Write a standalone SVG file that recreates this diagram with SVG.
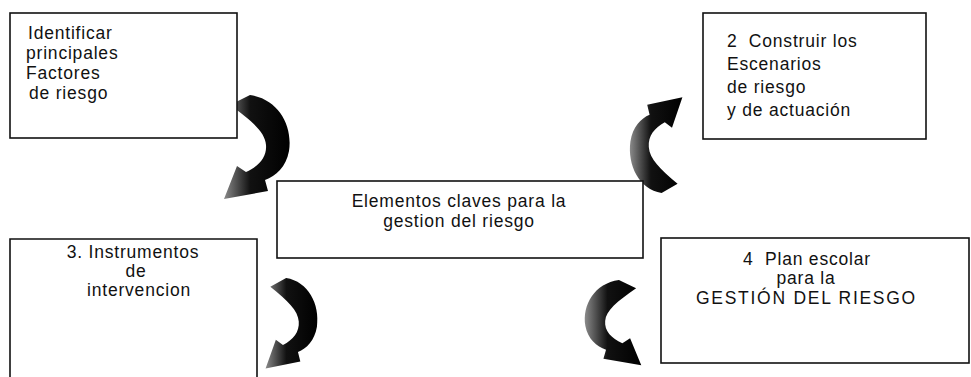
<svg xmlns="http://www.w3.org/2000/svg" width="971" height="377" viewBox="0 0 971 377">
<style>
.box{fill:#fff;stroke:#111;stroke-width:1.6}
.t{font-family:"Liberation Sans",Arial,sans-serif;font-size:17.5px;letter-spacing:0.8px;fill:#111}
.m{text-anchor:middle}
</style>
<defs>
<linearGradient id="gL" x1="0" y1="0" x2="1" y2="0">
<stop offset="0" stop-color="#8a8a8a"/><stop offset="0.4" stop-color="#111"/><stop offset="1" stop-color="#000"/>
</linearGradient>
<linearGradient id="gR" x1="0" y1="0" x2="1" y2="0">
<stop offset="0" stop-color="#000"/><stop offset="0.6" stop-color="#111"/><stop offset="1" stop-color="#8a8a8a"/>
</linearGradient>
<path id="arr" d="M 8,10 L 28,0 C 56,4 71,30 67,56 C 64,72 54,81 43,85 L 46,96 L 2,104 L 15,71 L 24,77 C 37,71 45,62 44,50 C 43,37 30,26 8,10 Z"/>
</defs>
<rect width="971" height="377" fill="#fff"/>

<g id="connectors">
<use href="#arr" fill="url(#gL)" transform="translate(222,95)"/>
<use href="#arr" fill="url(#gR)" transform="translate(684,193) scale(-0.8,-0.92)"/>
<use href="#arr" fill="url(#gL)" transform="translate(264,278) scale(0.79,0.87)"/>
<use href="#arr" fill="url(#gR)" transform="translate(643,280) scale(-0.86,0.82)"/>
</g>

<g id="node1">
<rect class="box" x="10" y="13" width="227" height="125"/>
<text class="t" x="28" y="39">Identificar</text>
<text class="t" x="26" y="59">principales</text>
<text class="t" x="26" y="79">Factores</text>
<text class="t" x="29" y="99">de riesgo</text>
</g>

<g id="node2">
<rect class="box" x="703" y="13" width="223" height="126"/>
<text class="t" x="727" y="47" xml:space="preserve">2  Construir los</text>
<text class="t" x="727" y="70">Escenarios</text>
<text class="t" x="727" y="93">de riesgo</text>
<text class="t" x="727" y="116">y de actuación</text>
</g>

<g id="center">
<rect class="box" x="277" y="181" width="366" height="77"/>
<text class="t m" x="459" y="207">Elementos claves para la</text>
<text class="t m" x="459" y="227">gestion del riesgo</text>
</g>

<g id="node3">
<path class="box" d="M 10,380 L 10,239 L 257,239 L 257,380"/>
<text class="t m" x="133" y="258">3. Instrumentos</text>
<text class="t m" x="136" y="277">de</text>
<text class="t m" x="139" y="296">intervencion</text>
</g>

<g id="node4">
<rect class="box" x="661" y="238" width="308" height="125"/>
<text class="t m" x="807" y="265" xml:space="preserve">4  Plan escolar</text>
<text class="t m" x="806" y="284">para la</text>
<text class="t m" x="806" y="304" textLength="220" lengthAdjust="spacing">GESTIÓN DEL RIESGO</text>
</g>
</svg>
